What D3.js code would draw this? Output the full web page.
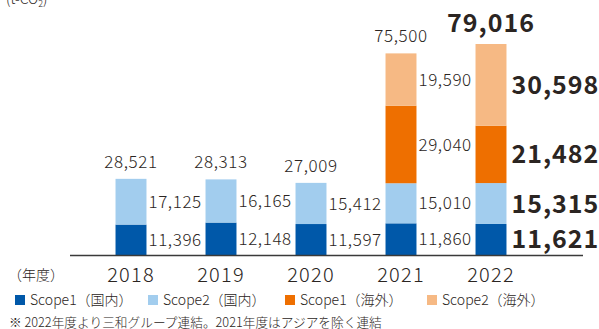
<!DOCTYPE html>
<html>
<head>
<meta charset="utf-8">
<script src="https://cdn.jsdelivr.net/npm/d3@7/dist/d3.min.js"></script>
<style>
  html, body { margin: 0; padding: 0; background: #fff; }
  svg { display: block; font-family: "Noto Sans CJK JP", "Noto Sans", sans-serif; }
</style>
</head>
<body>
<svg id="chart" width="599" height="329"></svg>
<script>
// CO2 emissions by scope (t-CO2), fiscal years
const years = ["2018", "2019", "2020", "2021", "2022"];
const scope1Domestic = [11396, 12148, 11597, 11860, 11621];
const scope2Domestic = [17125, 16165, 15412, 15010, 15315];
const scope1Overseas = [0, 0, 0, 29040, 21482];
const scope2Overseas = [0, 0, 0, 19590, 30598];
const totals = [28521, 28313, 27009, 75500, 79016];

const seriesKeys = ["s1d", "s2d", "s1o", "s2o"];
const seriesNames = ["Scope1（国内）", "Scope2（国内）", "Scope1（海外）", "Scope2（海外）"];
const seriesColors = ["#0058a9", "#a2cdee", "#ee6f00", "#f6b984"];

const textColor = "#2b2522";
const highlightYear = "2022";

const rows = years.map((yr, i) => ({
  year: yr,
  s1d: scope1Domestic[i],
  s2d: scope2Domestic[i],
  s1o: scope1Overseas[i],
  s2o: scope2Overseas[i],
  total: totals[i]
}));

const svg = d3.select("#chart");
const baseY = 255;

const x = d3.scaleBand()
  .domain(years)
  .range([86, 536])
  .paddingInner(0.656)
  .paddingOuter(0.328);

const y = d3.scaleLinear()
  .domain([0, 79016])
  .range([baseY, 44]);

const stacked = d3.stack().keys(seriesKeys)(rows);

// number label styles: regular years vs. the highlighted latest year
const small = { size: 17, weight: 300, spacing: 0.6 };
const big = { size: 25, weight: 700, spacing: 1 };

// stacked bars
const layers = svg.append("g").selectAll("g")
  .data(stacked)
  .join("g")
  .attr("fill", (d, i) => seriesColors[i]);

layers.selectAll("rect")
  .data(d => d.filter(p => p[1] > p[0]))
  .join("rect")
  .attr("x", p => x(p.data.year))
  .attr("width", x.bandwidth())
  .attr("y", p => y(p[1]))
  .attr("height", p => y(p[0]) - y(p[1]));

// segment value labels beside each bar
const segLabels = svg.append("g");
stacked.forEach(layer => {
  layer.filter(p => p[1] > p[0]).forEach(p => {
    const st = p.data.year === highlightYear ? big : small;
    segLabels.append("text")
      .attr("x", x(p.data.year) + x.bandwidth() + (st === big ? 5 : 2))
      .attr("y", (y(p[0]) + y(p[1])) / 2)
      .attr("dy", "0.36em")
      .attr("fill", textColor)
      .attr("font-size", st.size)
      .attr("font-weight", st.weight)
      .attr("letter-spacing", st.spacing)
      .text(d3.format(",")(p[1] - p[0]));
  });
});

// totals above bars
svg.append("g").selectAll("text")
  .data(rows)
  .join("text")
  .each(function (d) {
    const st = d.year === highlightYear ? big : small;
    d3.select(this)
      .attr("x", x(d.year) + x.bandwidth() / 2)
      .attr("y", y(d.total) - (st === big ? 12 : 11))
      .attr("text-anchor", "middle")
      .attr("fill", textColor)
      .attr("font-size", st.size)
      .attr("font-weight", st.weight)
      .attr("letter-spacing", st.spacing)
      .text(d3.format(",")(d.total));
  });

// baseline
svg.append("line")
  .attr("x1", 70).attr("x2", 583)
  .attr("y1", baseY + 0.5).attr("y2", baseY + 0.5)
  .attr("stroke", "#3a3a3a")
  .attr("stroke-width", 1.5);

// year axis
const xAxis = svg.append("g")
  .attr("transform", `translate(0,${baseY})`)
  .call(d3.axisBottom(x).tickSize(0).tickPadding(0));
xAxis.select(".domain").remove();
xAxis.selectAll("text")
  .attr("y", 27)
  .attr("dy", null)
  .attr("fill", textColor)
  .attr("font-size", 20)
  .attr("font-weight", 300)
  .attr("letter-spacing", 1.2)
  .attr("font-family", "\"Noto Sans CJK JP\", sans-serif");

svg.append("text")
  .attr("x", 8).attr("y", 280)
  .attr("fill", textColor)
  .attr("font-size", 14)
  .attr("font-weight", 300)
  .text("（年度）");

// unit label
const unit = svg.append("text")
  .attr("x", 6).attr("y", 4)
  .attr("fill", textColor)
  .attr("font-size", 14)
  .attr("font-weight", 300);
unit.append("tspan").text("(t-CO");
unit.append("tspan").attr("font-size", 9).attr("dy", 3).text("2");
unit.append("tspan").attr("dy", -3).text(")");

// legend
const legendX = [15, 148, 285, 427];
const legend = svg.append("g").selectAll("g")
  .data(seriesNames)
  .join("g")
  .attr("transform", (d, i) => `translate(${legendX[i]},295)`);
legend.append("rect")
  .attr("width", 10).attr("height", 10)
  .attr("fill", (d, i) => seriesColors[i]);
legend.append("text")
  .attr("x", 15).attr("y", 10)
  .attr("fill", textColor)
  .attr("font-size", 14)
  .attr("font-weight", 300)
  .text(d => d);

// footnote
svg.append("text")
  .attr("x", 9).attr("y", 327)
  .attr("fill", textColor)
  .attr("font-size", 12.7)
  .attr("font-weight", 300)
  .text("※ 2022年度より三和グループ連結。2021年度はアジアを除く連結");
</script>
</body>
</html>
